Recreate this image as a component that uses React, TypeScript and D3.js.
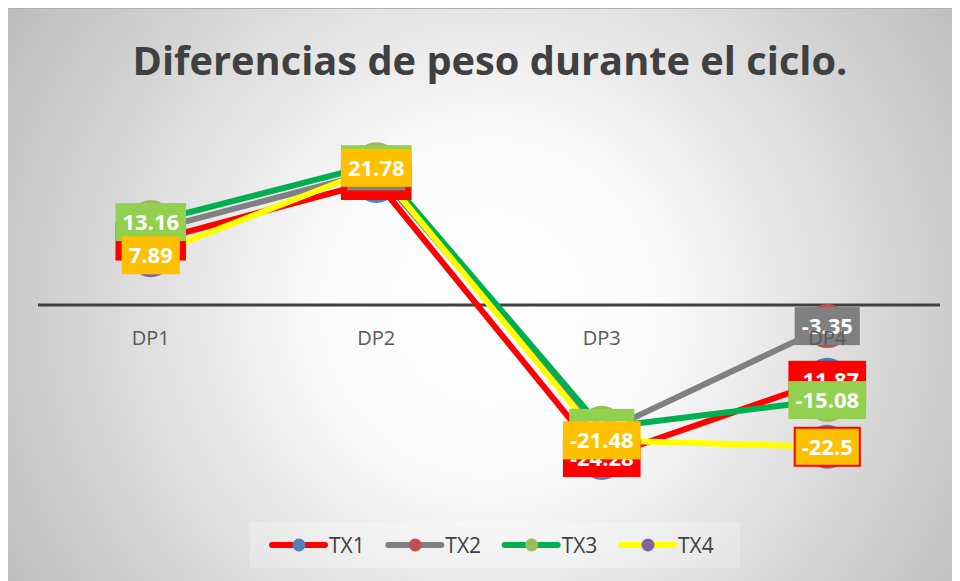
import React, { useRef, useEffect } from "react";
import * as d3 from "d3";

const categories = ["DP1", "DP2", "DP3", "DP4"];
const seriesNames = ["TX1", "TX2", "TX3", "TX4"];
const tx1 = [10.07, 19.68, -24.28, -11.87];
const tx2 = [11.8, 21.2, -20.3, -3.35];
const tx3 = [13.16, 22.35, -19.5, -15.08];
const tx4 = [7.89, 21.78, -21.48, -22.5];
const yDomain = [-30, 30];

const lineColors = ["#ff0000", "#808080", "#00b050", "#ffff00"];
const markerColors = ["#4f81bd", "#c0504d", "#9bbb59", "#8064a2"];
const labelColors = ["#ff0000", "#808080", "#92d050", "#ffc000"];

function App() {
  const ref = useRef(null);

  useEffect(() => {
    document.body.style.overflow = "hidden";
    const root = d3.select(ref.current);
    root.selectAll("*").remove();

    const W = 952, H = 573;
    const svg = root.append("svg").attr("width", W).attr("height", H)
      .style("display", "block")
      .style("font-family", "'Open Sans', sans-serif");

    const defs = svg.append("defs");
    const grad = defs.append("radialGradient").attr("id", "bg")
      .attr("gradientUnits", "userSpaceOnUse")
      .attr("cx", 482).attr("cy", 300).attr("r", 560);
    grad.append("stop").attr("offset", "0").attr("stop-color", "#ffffff");
    grad.append("stop").attr("offset", "0.3").attr("stop-color", "#fbfbfb");
    grad.append("stop").attr("offset", "1").attr("stop-color", "#bdbdbd");

    svg.append("rect").attr("width", 964).attr("height", 580).attr("fill", "url(#bg)");
    svg.append("line").attr("x1", 0).attr("x2", 964).attr("y1", 0.5).attr("y2", 0.5)
      .attr("stroke", "#b0b0b0");

    const title = svg.append("text")
      .attr("x", 482).attr("y", 67)
      .attr("text-anchor", "middle")
      .attr("font-weight", "bold")
      .attr("font-size", 36)
      .attr("fill", "#404040")
      .text("Diferencias de peso durante el ciclo.");
    const tw = (title.node() as any).getComputedTextLength();
    title.attr("font-size", 36 * 715 / tw);

    const x = d3.scaleBand().domain(categories).range([30, 932]);
    const cx = (c) => x(c) + x.bandwidth() / 2;
    const y = d3.scaleLinear().domain(yDomain).range([486, 108]);

    const data = [tx1, tx2, tx3, tx4];

    // zero line
    svg.append("line")
      .attr("x1", 30).attr("x2", 932)
      .attr("y1", y(0)).attr("y2", y(0))
      .attr("stroke", "#404040").attr("stroke-width", 3);

    const line = d3.line<number>()
      .x((d, i) => cx(categories[i]))
      .y((d) => y(d));

    data.forEach((vals, s) => {
      svg.append("path").datum(vals)
        .attr("d", line)
        .attr("fill", "none")
        .attr("stroke", lineColors[s])
        .attr("stroke-width", 6)
        .attr("stroke-linejoin", "round");
      svg.append("g").selectAll("circle").data(vals).enter()
        .append("circle")
        .attr("cx", (d, i) => cx(categories[i]))
        .attr("cy", (d) => y(d))
        .attr("r", 22)
        .attr("fill", markerColors[s]);
    });

    // data labels
    data.forEach((vals, s) => {
      vals.forEach((v, i) => {
        const g = svg.append("g")
          .attr("transform", `translate(${cx(categories[i])},${y(v)})`);
        const rect = g.append("rect").attr("fill", labelColors[s]);
        const t = g.append("text")
          .attr("text-anchor", "middle")
          .attr("y", 8)
          .attr("font-size", 22)
          .attr("font-weight", "bold")
          .attr("fill", "#ffffff")
          .text(String(v));
        const w = (t.node() as any).getComputedTextLength() + 14;
        rect.attr("x", -w / 2).attr("y", -19).attr("width", w).attr("height", 38);
        if (s === 3 && i === 3) {
          rect.attr("stroke", "#ff0000").attr("stroke-width", 2);
        }
      });
    });

    // category labels
    svg.append("g").selectAll("text").data(categories).enter()
      .append("text")
      .attr("x", (d) => cx(d))
      .attr("y", 337)
      .attr("text-anchor", "middle")
      .attr("font-size", 20)
      .attr("fill", "#595959")
      .text((d) => d);

    // legend
    svg.append("rect")
      .attr("x", 242).attr("y", 514).attr("width", 490).attr("height", 46)
      .attr("fill", "#ffffff").attr("opacity", 0.25);
    const lx = d3.scalePoint().domain(seriesNames).range([262, 611]);
    seriesNames.forEach((n, s) => {
      const g = svg.append("g").attr("transform", `translate(${lx(n)},537)`);
      g.append("line").attr("x1", 2).attr("x2", 55)
        .attr("stroke", lineColors[s]).attr("stroke-width", 6)
        .attr("stroke-linecap", "round");
      g.append("circle").attr("cx", 29).attr("r", 6.5).attr("fill", markerColors[s]);
      g.append("text").attr("x", 59).attr("y", 8)
        .attr("font-size", 21).attr("fill", "#404040").text(n);
    });
  }, []);

  return <div ref={ref}></div>;
}

export default App;
